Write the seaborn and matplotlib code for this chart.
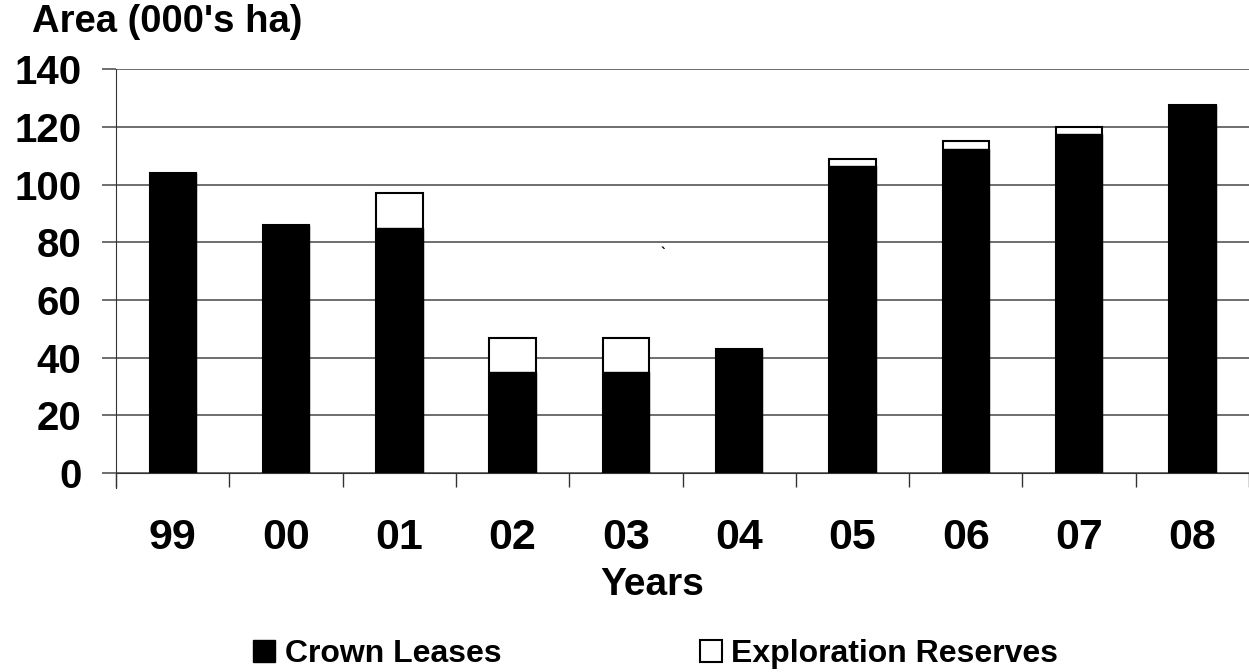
import matplotlib
matplotlib.use("Agg")
import matplotlib.pyplot as plt
import seaborn as sns
import pandas as pd
from matplotlib.patches import Patch
from matplotlib.ticker import MultipleLocator

# data
years = ["99", "00", "01", "02", "03", "04", "05", "06", "07", "08"]
crown_leases = [104, 86, 85, 35, 35, 43, 106.5, 112.5, 117.5, 127.5]
exploration_reserves = [0, 0, 12, 12, 12, 0, 2.5, 2.5, 2.5, 0]

df = pd.DataFrame({"year": years, "crown": crown_leases, "explo": exploration_reserves})
df["total"] = df["crown"] + df["explo"]

sns.set_style("white")
plt.rcParams["font.family"] = ["Liberation Sans", "DejaVu Sans"]
plt.rcParams["font.weight"] = "bold"
for k in ["text.color", "xtick.color", "ytick.color", "xtick.labelcolor",
          "ytick.labelcolor", "axes.labelcolor"]:
    plt.rcParams[k] = "black"

fig = plt.figure(figsize=(12.49, 6.72), dpi=100)
ax = fig.add_axes([0.093, 0.296, 0.907, 0.601])

# exploration reserves stacked on top: draw totals in white first
sns.barplot(data=df, x="year", y="total", order=years, color="white",
            edgecolor="black", linewidth=1.5, width=0.41, ax=ax)
sns.barplot(data=df, x="year", y="crown", order=years, color="black",
            edgecolor="black", linewidth=1.0, width=0.41, ax=ax, saturation=1)

ax.set_xlim(-0.5, 9.5)
ax.set_ylim(0, 140)
ax.yaxis.set_major_locator(MultipleLocator(20))
ax.grid(axis="y", color="#555555", linewidth=1.2)
ax.set_axisbelow(True)

for s in ["top", "right"]:
    ax.spines[s].set_visible(False)
ax.spines["left"].set_color("#333333")
ax.spines["bottom"].set_color("#333333")
ax.spines["left"].set_bounds(-5, 140)

# tick marks between categories
ax.set_xticks([i + 0.5 for i in range(-1, 10)], minor=True)
ax.tick_params(axis="x", which="both", bottom=True)
ax.tick_params(axis="y", which="major", left=True)
ax.tick_params(axis="x", which="major", length=0, pad=32.5, labelsize=31)
ax.tick_params(axis="x", which="minor", length=10, color="#333333", direction="out", width=1)
ax.tick_params(axis="y", length=10, color="#555555", direction="out", labelsize=29, pad=15, width=1.2)
for lab in ax.get_xticklabels() + ax.get_yticklabels():
    lab.set_fontweight("bold")

ax.set_xlabel("Years", fontsize=28, fontweight="bold")
ax.xaxis.label.set_va("center")
ax.xaxis.set_label_coords(0.4735, -0.277)
ax.set_ylabel("")
fig.text(0.026, 0.968, "Area (000's ha)", fontsize=27.5, fontweight="bold",
         ha="left", va="center")
fig.text(0.531, 0.622, "`", fontsize=10, ha="center", va="center")

handles = [Patch(facecolor="black", edgecolor="black", label="Crown Leases"),
           Patch(facecolor="white", edgecolor="black", linewidth=1.5, label="Exploration Reserves")]
fig.legend(handles=handles, loc="center", bbox_to_anchor=(0.525, 0.027), ncol=2,
           frameon=False, prop={"size": 23, "weight": "bold"},
           handlelength=0.69, handleheight=0.69, handletextpad=0.3, columnspacing=6.2,
           borderpad=0, borderaxespad=0)

fig.savefig("out.png", dpi=100)
